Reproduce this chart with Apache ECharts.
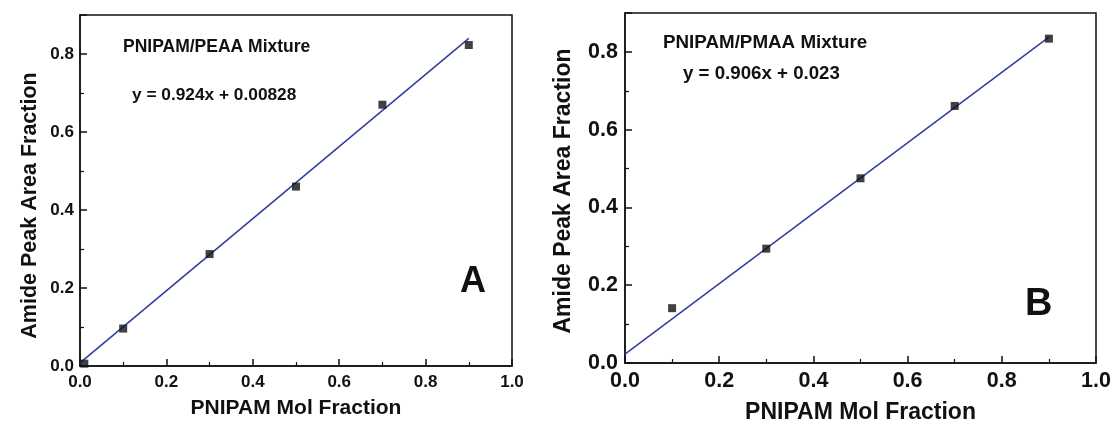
<!DOCTYPE html>
<html>
<head>
<meta charset="UTF-8">
<title></title>
<script src="https://cdn.jsdelivr.net/npm/echarts@6/dist/echarts.min.js"></script>
<style>
  html, body { margin: 0; padding: 0; background: #fff; }
  #myChart { width: 1113px; height: 423px; }
</style>
</head>
<body>
<div id="myChart"></div>
<script>
// panel A: PNIPAM/PEAA
var pointsA = [[0.01, 0.006], [0.1, 0.096], [0.3, 0.287], [0.5, 0.46], [0.7, 0.67], [0.9, 0.823]];
var fitA = [[0, 0.008], [0.9, 0.84]];
// panel B: PNIPAM/PMAA
var pointsB = [[0.1, 0.141], [0.3, 0.294], [0.5, 0.475], [0.7, 0.661], [0.9, 0.834]];
var fitB = [[0, 0.023], [0.9, 0.838]];

var titleA = "PNIPAM/PEAA Mixture";
var eqA = "y = 0.924x + 0.00828";
var titleB = "PNIPAM/PMAA Mixture";
var eqB = "y = 0.906x + 0.023";
var xName = "PNIPAM Mol Fraction";
var yName = "Amide Peak Area Fraction";

var font = "'Liberation Sans', Arial, sans-serif";
var lineColor = "#2f3e9b";

var myChart = echarts.init(document.getElementById("myChart"));

function xAxisFor(idx, labelSize, nameSize, nameGap, margin) {
  return {
    gridIndex: idx, type: 'value', min: 0, max: 1, interval: 0.2,
    name: xName, nameLocation: 'middle', nameGap: nameGap,
    nameTextStyle: { fontFamily: font, fontWeight: 'bold', fontSize: nameSize, color: '#111' },
    axisLine: { show: true, onZero: false, lineStyle: { color: '#111', width: 1.5 } },
    axisTick: { show: true, inside: true, length: 7, lineStyle: { color: '#111', width: 1.5 } },
    minorTick: { show: true, splitNumber: 2, length: 4, lineStyle: { color: '#111', width: 1.2 } },
    axisLabel: { fontFamily: font, fontWeight: 'bold', fontSize: labelSize, color: '#111', margin: margin,
      formatter: function (v) { return v.toFixed(1); } },
    splitLine: { show: false }
  };
}

function yAxisFor(idx, labelSize, nameSize, nameGap, margin, namePad) {
  return {
    gridIndex: idx, type: 'value', min: 0, max: 0.9, interval: 0.2,
    name: yName, nameLocation: 'middle', nameGap: nameGap,
    nameTextStyle: { fontFamily: font, fontWeight: 'bold', fontSize: nameSize, color: '#111',
      padding: namePad },
    axisLine: { show: true, onZero: false, lineStyle: { color: '#111', width: 1.5 } },
    axisTick: { show: true, inside: true, length: 7, lineStyle: { color: '#111', width: 1.5 } },
    minorTick: { show: true, splitNumber: 2, length: 4, lineStyle: { color: '#111', width: 1.2 } },
    axisLabel: { fontFamily: font, fontWeight: 'bold', fontSize: labelSize, color: '#111', margin: margin,
      showMaxLabel: false,
      formatter: function (v) { return v.toFixed(1); } },
    splitLine: { show: false }
  };
}

function scatterFor(idx, data) {
  return {
    type: 'scatter', xAxisIndex: idx, yAxisIndex: idx, data: data,
    symbol: 'rect', symbolSize: 8, clip: true,
    itemStyle: { color: '#111' }, z: 3
  };
}

function fitFor(idx, data) {
  return {
    type: 'line', xAxisIndex: idx, yAxisIndex: idx, data: data,
    showSymbol: false, symbol: 'none',
    lineStyle: { color: lineColor, width: 1.5 }, z: 2
  };
}

function textEl(x, y, str, size) {
  return {
    type: 'text', left: x, top: y,
    style: { text: str, fontFamily: font, fontWeight: 'bold', fontSize: size, fill: '#111' }
  };
}

var options = {
  backgroundColor: '#fff',
  animation: false,
  grid: [
    { left: 80, top: 15, width: 432, height: 351, show: true, borderColor: '#111', borderWidth: 1.5,
      outerBoundsMode: 'none' },
    { left: 625, top: 13, width: 471, height: 350, show: true, borderColor: '#111', borderWidth: 1.5,
      outerBoundsMode: 'none' }
  ],
  xAxis: [xAxisFor(0, 17, 21, 32, 8), xAxisFor(1, 21.5, 23, 38, 7)],
  yAxis: [yAxisFor(0, 17, 21.5, 39, 6, [0, 30, 0, 0]), yAxisFor(1, 21.5, 23, 50, 7, [0, 6, 0, 0])],
  series: [fitFor(0, fitA), scatterFor(0, pointsA), fitFor(1, fitB), scatterFor(1, pointsB)],
  graphic: [
    textEl(123, 38, titleA, 17.5),
    textEl(132, 87, eqA, 17.3),
    textEl(460, 264, "A", 36),
    textEl(663, 33, titleB, 18.8),
    textEl(683, 64, eqB, 18.7),
    textEl(1025, 286, "B", 38)
  ]
};

myChart.setOption(options);
</script>
</body>
</html>
